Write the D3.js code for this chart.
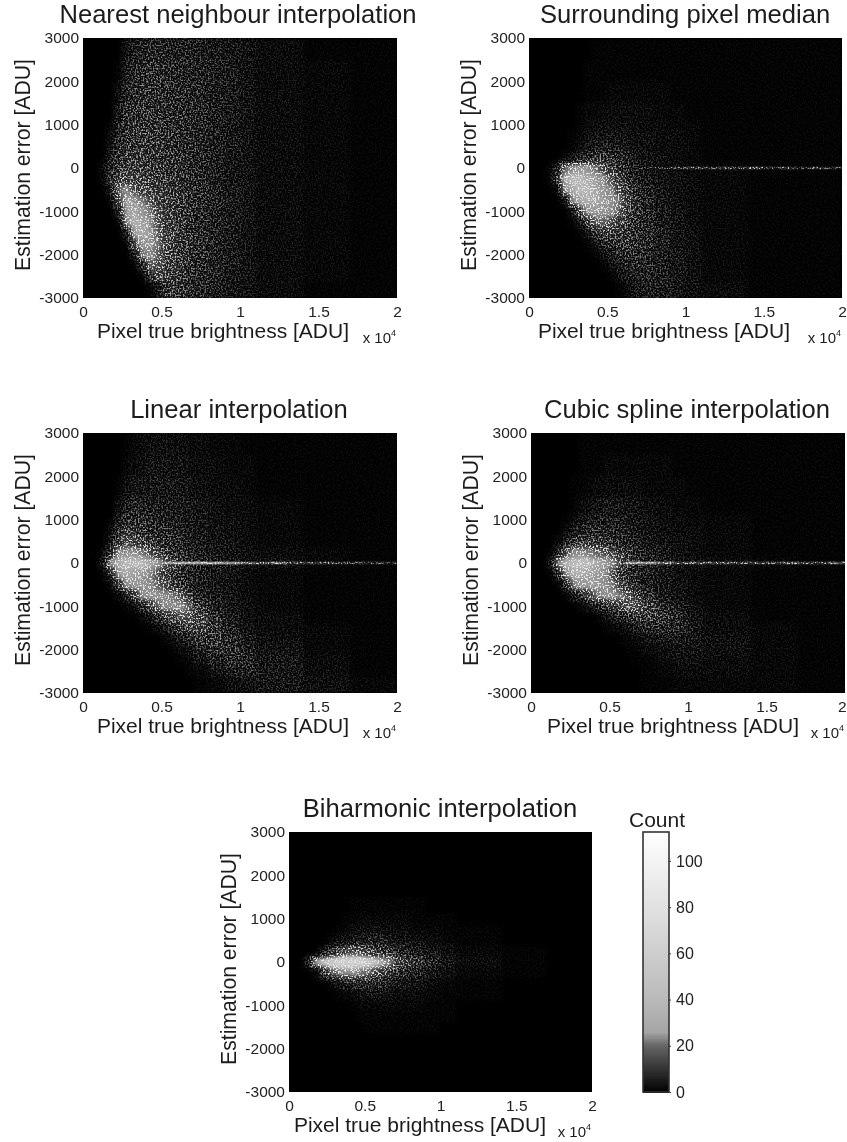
<!DOCTYPE html>
<html><head><meta charset="utf-8">
<script src="https://cdn.jsdelivr.net/npm/d3@7/dist/d3.min.js"></script>
<style>html,body{margin:0;padding:0;background:#fff}svg{display:block}text{font-family:"Liberation Sans",Arial,sans-serif;fill:#1c1c1c}</style>
</head><body><div id="c"></div>
<script>
// Bin edges of the estimated 2-D histograms
const xEdges=[1000,1500,2000,2500,3000,3500,4000,4500,5000,5500,6000,6500,7000,8000,9000,10000,11000,14000,17000,20000];
const yEdges=[3000,2500,2000,1500,1125,875,625,375,125,-125,-375,-625,-875,-1125,-1375,-1625,-1875,-2125,-2375,-2625,-3000];
const ridgeEdges=[5000,6000,7000,8000,9000,10000,11000,12000,13000,14000,15000,16000,17000,18000,19000,20000];
const xTicks=[0,5000,10000,15000,20000];
const yTicks=[3000,2000,1000,0,-1000,-2000,-3000];
const cbTicks=[0,20,40,60,80,100];
const cbCounts=[0,10,20,26,40,60,80,100,112.5];
const cbGrays=[0,50,100,165,185,205,225,243,255];

const countsNearest=[
[0,0,0,5,8,9,10,10,10,9,9,9,8,7,6,5,3,1,1],
[0,0,1,8,10,11,12,12,11,11,10,10,9,8,7,5,3,2,1],
[0,0,4,10,12,13,13,13,12,12,11,10,10,8,7,5,3,2,1],
[0,0,7,12,13,14,14,13,13,12,12,11,10,8,7,5,3,2,1],
[0,1,9,13,14,14,14,14,13,13,12,11,10,8,6,5,3,2,1],
[0,3,11,13,14,15,15,14,14,13,12,11,10,8,7,5,3,2,1],
[0,5,12,14,15,15,15,14,14,13,12,12,10,8,7,5,3,2,1],
[0,8,13,15,16,16,15,15,14,14,13,12,10,8,6,5,3,2,1],
[3,11,15,17,18,17,16,16,15,14,13,12,10,8,6,5,3,2,1],
[2,12,19,21,20,19,18,17,16,15,14,12,11,8,6,5,3,2,1],
[0,8,24,26,23,21,20,19,17,16,15,13,11,9,7,5,3,2,1],
[0,2,22,32,30,25,23,20,18,16,15,13,11,9,7,5,3,2,1],
[0,0,10,32,36,30,25,22,19,17,15,14,11,9,7,5,3,2,1],
[0,0,1,26,38,34,27,23,19,17,15,14,11,9,7,5,3,2,1],
[0,0,0,8,32,36,30,24,20,18,16,14,12,9,7,5,3,2,1],
[0,0,0,1,22,30,29,25,21,18,16,14,12,9,7,5,3,2,1],
[0,0,0,0,6,25,26,24,20,18,16,14,12,9,7,5,3,2,1],
[0,0,0,0,1,10,24,23,20,17,16,14,11,9,7,5,3,2,1],
[0,0,0,0,0,1,14,21,18,17,15,13,11,9,6,5,3,2,1],
[0,0,0,0,0,0,1,6,15,15,14,12,11,8,6,5,3,1,1]];
const countsMedian=[
[0,0,0,0,0,0,1,1,1,1,1,1,1,1,1,1,1,1,1],
[0,0,0,0,0,1,1,1,1,1,1,1,1,1,1,1,1,1,1],
[0,0,0,0,0,1,1,1,2,2,2,2,2,2,1,1,1,1,1],
[0,0,0,0,1,2,2,3,3,3,3,3,3,2,2,1,1,1,1],
[0,0,0,0,1,3,3,4,4,4,4,3,3,3,2,2,1,1,1],
[0,0,0,1,2,4,5,5,5,5,5,4,4,3,3,2,1,1,1],
[0,0,0,1,3,6,7,8,7,7,6,5,4,3,3,2,1,1,1],
[0,0,2,5,10,12,14,14,13,11,9,7,5,4,3,2,1,1,1],
[1,8,24,27,30,28,25,22,18,14,11,8,6,4,3,2,2,1,1],
[1,14,36,42,42,38,32,27,23,19,14,10,7,5,4,3,2,1,1],
[0,2,26,38,42,42,36,30,26,22,18,13,9,6,4,3,2,1,1],
[0,0,4,26,34,38,36,32,27,25,20,15,10,6,4,3,2,1,1],
[0,0,0,5,22,28,30,30,27,24,19,15,11,7,5,3,2,1,1],
[0,0,0,1,6,18,24,24,23,20,17,14,11,7,5,3,2,1,1],
[0,0,0,0,1,6,14,18,18,16,15,13,11,8,5,4,2,1,1],
[0,0,0,0,0,1,5,10,13,14,14,13,11,8,5,4,2,1,1],
[0,0,0,0,0,0,1,4,8,11,12,12,10,8,6,4,2,1,1],
[0,0,0,0,0,0,0,1,4,8,10,11,10,8,6,4,2,1,1],
[0,0,0,0,0,0,0,0,1,4,7,9,9,8,6,4,2,1,1],
[0,0,0,0,0,0,0,0,0,1,3,6,8,8,6,4,3,1,1]];
const countsLinear=[
[0,0,0,1,2,3,4,4,4,4,4,3,3,2,2,1,1,1,1],
[0,0,0,2,3,4,5,5,5,5,5,4,3,3,2,2,1,1,1],
[0,0,1,4,6,6,6,6,6,6,6,5,4,3,3,2,1,1,1],
[0,0,4,8,10,9,8,8,7,7,7,6,5,4,3,3,2,1,1],
[0,1,7,12,13,12,11,9,9,9,8,7,6,4,4,3,2,1,1],
[0,3,12,17,16,14,13,12,11,10,9,8,6,5,4,3,2,1,1],
[0,7,18,22,21,18,16,14,13,11,10,9,7,5,5,3,2,1,1],
[2,14,26,28,27,25,23,20,16,14,12,10,8,6,5,4,3,2,1],
[6,28,38,44,44,42,36,30,24,20,16,13,10,8,6,5,4,2,1],
[1,14,32,36,34,30,26,23,19,15,12,10,8,6,5,3,2,1,1],
[0,2,18,28,30,28,26,24,22,18,14,11,8,6,5,3,2,1,1],
[0,0,2,10,20,26,28,28,27,25,23,18,10,7,5,3,2,1,1],
[0,0,0,1,4,12,20,24,26,27,26,24,16,9,6,4,2,1,1],
[0,0,0,0,0,2,6,12,18,21,23,23,20,12,7,4,3,1,1],
[0,0,0,0,0,0,1,3,7,12,15,18,18,14,9,5,3,2,1],
[0,0,0,0,0,0,0,0,2,4,8,11,14,14,11,7,4,2,1],
[0,0,0,0,0,0,0,0,0,1,3,5,9,13,12,9,5,2,1],
[0,0,0,0,0,0,0,0,0,0,1,2,5,9,11,10,6,3,1],
[0,0,0,0,0,0,0,0,0,0,0,1,2,5,8,9,6,3,1],
[0,0,0,0,0,0,0,0,0,0,0,0,1,2,4,5,6,4,2]];
const countsCubic=[
[0,0,0,0,1,1,1,1,1,1,1,1,1,1,1,1,1,1,1],
[0,0,0,0,1,1,1,2,2,2,2,2,2,2,1,1,1,1,1],
[0,0,0,1,1,2,3,3,3,3,3,3,2,2,2,1,1,1,1],
[0,0,0,1,3,4,5,6,6,6,5,5,4,3,2,2,1,1,1],
[0,0,1,3,6,7,8,8,8,7,7,6,5,3,3,2,2,1,1],
[0,0,3,7,10,11,11,10,10,9,8,7,5,4,3,3,2,1,1],
[0,3,9,14,16,16,15,13,11,10,9,8,6,5,4,3,2,1,1],
[1,10,23,26,26,25,24,23,21,18,14,11,8,6,4,3,2,1,1],
[6,26,40,44,46,42,36,30,26,21,16,12,9,7,5,4,3,2,1],
[1,14,30,38,38,34,30,26,22,16,12,10,8,6,4,3,2,1,1],
[0,1,14,26,30,32,30,28,25,21,16,12,8,6,4,3,2,1,1],
[0,0,1,8,14,22,25,27,27,25,23,20,12,7,5,3,2,1,1],
[0,0,0,0,2,5,10,14,18,21,23,23,18,11,7,4,2,1,1],
[0,0,0,0,0,0,1,4,7,10,13,15,16,14,10,5,3,1,1],
[0,0,0,0,0,0,0,1,2,3,5,8,10,11,10,6,3,2,1],
[0,0,0,0,0,0,0,0,0,1,2,3,5,7,7,6,4,2,1],
[0,0,0,0,0,0,0,0,0,0,1,1,3,4,5,5,4,2,1],
[0,0,0,0,0,0,0,0,0,0,0,1,1,3,4,4,3,2,1],
[0,0,0,0,0,0,0,0,0,0,0,0,1,2,3,3,3,2,1],
[0,0,0,0,0,0,0,0,0,0,0,0,1,1,2,2,2,2,1]];
const countsBiharmonic=[
[0,0,0,0,0,0,0,0,0,0,0,0,0,0,0,0,0,0,0],
[0,0,0,0,0,0,0,0,0,0,0,0,0,0,0,0,0,0,0],
[0,0,0,0,0,0,0,0,0,0,0,0,0,0,0,0,0,0,0],
[0,0,0,0,0,0,1,1,1,1,1,1,1,1,0,0,0,0,0],
[0,0,0,0,0,1,1,2,2,2,2,2,2,1,1,1,0,0,0],
[0,0,0,0,1,2,3,4,4,4,4,3,3,2,2,1,1,0,0],
[0,0,0,2,4,5,7,8,9,9,8,6,5,4,3,2,1,0,0],
[0,0,6,14,20,22,23,22,20,18,16,14,10,8,6,4,2,1,0],
[8,30,50,65,75,80,80,75,65,50,32,25,20,14,10,6,3,1,0],
[0,2,14,23,25,26,26,25,24,22,20,16,12,9,6,4,2,1,0],
[0,0,0,2,7,9,10,11,11,11,10,8,6,5,3,2,1,0,0],
[0,0,0,0,1,2,3,4,5,5,5,4,3,3,2,1,1,0,0],
[0,0,0,0,0,0,1,2,2,2,2,2,2,2,1,1,0,0,0],
[0,0,0,0,0,0,0,1,1,1,1,1,1,1,1,1,0,0,0],
[0,0,0,0,0,0,0,0,1,1,1,1,1,1,1,0,0,0,0],
[0,0,0,0,0,0,0,0,0,0,0,0,0,0,0,0,0,0,0],
[0,0,0,0,0,0,0,0,0,0,0,0,0,0,0,0,0,0,0],
[0,0,0,0,0,0,0,0,0,0,0,0,0,0,0,0,0,0,0],
[0,0,0,0,0,0,0,0,0,0,0,0,0,0,0,0,0,0,0],
[0,0,0,0,0,0,0,0,0,0,0,0,0,0,0,0,0,0,0]];
// Thin streak along zero error
const ridgeNone=[];
const ridgeMedian=[0,0,10,14,16,18,16,18,16,20,14,18,12,18,14];
const ridgeLinear=[30,34,32,30,26,24,22,24,20,20,20,16,16,16,14];
const ridgeCubic=[0,26,26,24,22,22,22,22,20,20,20,22,20,20,22];

const panelTitles=["Nearest neighbour interpolation","Surrounding pixel median","Linear interpolation","Cubic spline interpolation","Biharmonic interpolation"];
const panelCounts=[countsNearest,countsMedian,countsLinear,countsCubic,countsBiharmonic];
const panelRidges=[ridgeNone,ridgeMedian,ridgeLinear,ridgeCubic,ridgeNone];
const panelLefts=[83,529,83,531,289];
const panelRights=[397,842,397,845,592];
const panelTops=[38,38,433,433,832];
const titleOffsets=[155,156,156,156,151];
const xLabelOffsets=[140,135,140,142,131];

const W=847,H=1142,ph=260;
const svg=d3.select("#c").append("svg").attr("width",W).attr("height",H);
const defs=svg.append("defs");
const gray=d3.scaleLinear().domain(cbCounts).range(cbGrays.map(g=>d3.rgb(g,g,g))).clamp(true);

function table(sel,vals){["feFuncR","feFuncG","feFuncB"].forEach(t=>sel.append(t).attr("type","table").attr("tableValues",vals));}
function grainFilter(id,std,seed,gain){
  const f=defs.append("filter").attr("id",id).attr("filterUnits","userSpaceOnUse")
    .attr("x",0).attr("y",0).attr("width",W).attr("height",H)
    .attr("color-interpolation-filters","sRGB");
  f.append("feGaussianBlur").attr("in","SourceGraphic").attr("stdDeviation",std).attr("result","b");
  f.append("feTurbulence").attr("type","fractalNoise").attr("baseFrequency",0.6).attr("numOctaves",2).attr("seed",seed).attr("result","t");
  f.append("feColorMatrix").attr("in","t").attr("type","matrix")
    .attr("values","2.8 0 0 0 -0.9  2.8 0 0 0 -0.9  2.8 0 0 0 -0.9  0 0 0 0 1").attr("result","n0");
  const g=f.append("feComponentTransfer").attr("in","n0").attr("result","n");
  ["feFuncR","feFuncG","feFuncB"].forEach(t=>g.append(t).attr("type","gamma").attr("amplitude",1).attr("exponent",2).attr("offset",0));
  f.append("feComposite").attr("in","b").attr("in2","n").attr("operator","arithmetic")
    .attr("k1",gain).attr("k2",0).attr("k3",0).attr("k4",0).attr("result","g");
  const fl=f.append("feComponentTransfer").attr("in","b").attr("result","floor");
  table(fl,"0 0.04 0.22 0.8 0.95");
  f.append("feBlend").attr("in","g").attr("in2","floor").attr("mode","lighten").attr("result","m");
  const top=f.append("feComponentTransfer").attr("in","m").attr("result","c");
  table(top,"0 0.25 0.5 0.72 0.9");
  f.append("feGaussianBlur").attr("in","c").attr("stdDeviation",0.5);
}
const soft=defs.append("filter").attr("id","soft").attr("x","-10%").attr("y","-10%").attr("width","120%").attr("height","120%");
soft.append("feGaussianBlur").attr("stdDeviation",0.45);

panelCounts.forEach((counts,p)=>{
  const L=panelLefts[p],R=panelRights[p],T=panelTops[p],B=T+ph;
  const x=d3.scaleLinear().domain([0,20000]).range([L,R]);
  const y=d3.scaleLinear().domain([-3000,3000]).range([B,T]);
  defs.append("clipPath").attr("id","clip"+p).append("rect").attr("x",L).attr("y",T).attr("width",R-L).attr("height",ph);
  grainFilter("body"+p,2.7,p*7+3,2.2);
  grainFilter("line"+p,0.5,p*5+11,2.2);
  const plot=svg.append("g").attr("clip-path",`url(#clip${p})`);
  plot.append("rect").attr("x",L).attr("y",T).attr("width",R-L).attr("height",ph).attr("fill","#000");
  const body=plot.append("g").attr("filter",`url(#body${p})`);
  body.append("rect").attr("x",L).attr("y",T).attr("width",R-L).attr("height",ph).attr("fill","#000");
  counts.forEach((row,r)=>row.forEach((v,c)=>{
    if(!v)return;
    body.append("rect").attr("x",x(xEdges[c])).attr("y",y(yEdges[r]))
      .attr("width",x(xEdges[c+1])-x(xEdges[c])+0.5).attr("height",y(yEdges[r+1])-y(yEdges[r])+0.5)
      .attr("fill",gray(v));
  }));
  const ridge=panelRidges[p];
  if(ridge.length){
    const rg=plot.append("g").attr("filter",`url(#line${p})`);
    ridge.forEach((v,c)=>{
      if(!v)return;
      rg.append("rect").attr("x",x(ridgeEdges[c])).attr("y",y(30))
        .attr("width",x(ridgeEdges[c+1])-x(ridgeEdges[c])).attr("height",y(-30)-y(30))
        .attr("fill",gray(v));
    });
  }
  const txt=svg.append("g").attr("filter","url(#soft)");
  const ax=txt.append("g").attr("transform",`translate(0,${B})`)
    .call(d3.axisBottom(x).tickValues(xTicks).tickSize(0).tickPadding(8).tickFormat(d=>d/10000));
  const ay=txt.append("g").attr("transform",`translate(${L},0)`)
    .call(d3.axisLeft(y).tickValues(yTicks).tickSize(0).tickPadding(4).tickFormat(d=>String(d)));
  [ax,ay].forEach(a=>{a.select(".domain").remove();a.selectAll("text").attr("font-size",15.5).style("fill","#222");a.attr("font-family",null)});
  ax.selectAll("text").filter(d=>x(d)+5>W).attr("text-anchor","end").attr("x",W-x(20000)-1);
  txt.append("text").attr("x",L+titleOffsets[p]).attr("y",T-15).attr("text-anchor","middle").attr("font-size",25.6).text(panelTitles[p]);
  txt.append("text").attr("x",L+xLabelOffsets[p]).attr("y",B+40).attr("text-anchor","middle").attr("font-size",21).text("Pixel true brightness [ADU]");
  txt.append("text").attr("transform",`translate(${L-53},${(T+B)/2-3}) rotate(-90)`).attr("text-anchor","middle").attr("font-size",21.2).text("Estimation error [ADU]");
  const ex=txt.append("text").attr("x",R-1).attr("y",B+45).attr("text-anchor","end").attr("font-size",15).text("x 10");
  ex.append("tspan").attr("dy",-7).attr("font-size",9).text("4");
});

// Colour bar
const cbL=643,cbR=669,cbT=832,cbB=1092;
const cy=d3.scaleLinear().domain([0,112.5]).range([cbB,cbT]);
const cb=svg.append("g").attr("shape-rendering","crispEdges");
d3.range(0,112.5,0.5).forEach(v=>{
  cb.append("rect").attr("x",cbL).attr("width",cbR-cbL).attr("y",cy(v+0.5)).attr("height",cy(v)-cy(v+0.5)+1).attr("fill",gray(v));
});
svg.append("rect").attr("x",cbL).attr("y",cbT).attr("width",cbR-cbL).attr("height",cbB-cbT).attr("fill","none").attr("stroke","#333").attr("stroke-width",1.6);
const cbAxis=svg.append("g").attr("transform",`translate(${cbR},0)`).attr("filter","url(#soft)")
  .call(d3.axisRight(cy).tickValues(cbTicks).tickSize(2).tickPadding(5).tickFormat(d3.format("d")));
cbAxis.select(".domain").remove();
cbAxis.attr("font-family",null);
cbAxis.selectAll("text").attr("font-size",16).style("fill","#222");
cbAxis.selectAll("line").attr("stroke","#333");
svg.append("text").attr("x",657).attr("y",827).attr("text-anchor","middle").attr("font-size",21).attr("filter","url(#soft)").text("Count");
</script></body></html>
